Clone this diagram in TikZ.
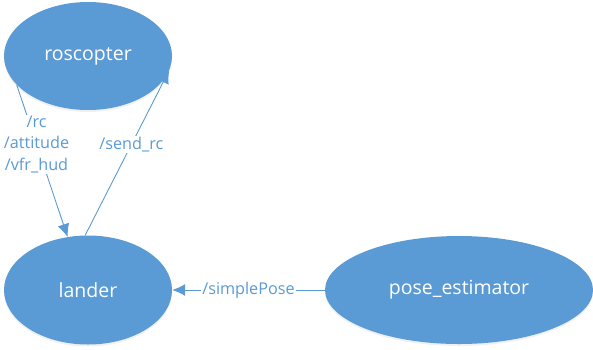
\documentclass[tikz,border=0pt]{standalone}
\usepackage{fontspec}
\setmainfont{Open Sans}
\usetikzlibrary{shapes.geometric,arrows.meta,shadows}
\definecolor{nodeblue}{HTML}{5B9BD5}
\tikzset{
	rosnode/.style={ellipse,fill=nodeblue,text=white,inner sep=0pt,
		drop shadow={opacity=0.12,shadow xshift=0pt,shadow yshift=-2pt},
		font=\fontsize{19.5}{22}\selectfont},
	topic/.style={draw=nodeblue,line width=0.9pt,-{Latex[length=13pt,width=12pt]}},
	topiclabel/.style={fill=white,text=nodeblue,inner sep=1pt,align=center,
		font=\fontsize{16.2}{21.5}\selectfont}
}

\begin{document}
\begin{tikzpicture}[x=1pt,y=-1pt]
					\useasboundingbox (0,0) rectangle (593,349);
					
					%the three nodes
					\node[rosnode,minimum width=168pt,minimum height=108pt] (roscopter) at (88,56) {roscopter};
					\node[rosnode,minimum width=168pt,minimum height=109pt] (lander) at (88,290) {lander};
					\node[rosnode,minimum width=268pt,minimum height=108pt] (poseest) at (459,290) {pose\_estimator};
					
					%topics between them
					\draw[topic] (roscopter.202) -- node[topiclabel,pos=0.39]{/rc\\/attitude\\/vfr\_hud} (lander.111);
					\draw[topic] (lander.93) -- node[topiclabel,pos=0.55]{/send\_rc} (roscopter.350);
					\draw[topic] (poseest.west) -- node[topiclabel,pos=0.5]{/simplePose} (lander.east);
				\end{tikzpicture}
\end{document}
